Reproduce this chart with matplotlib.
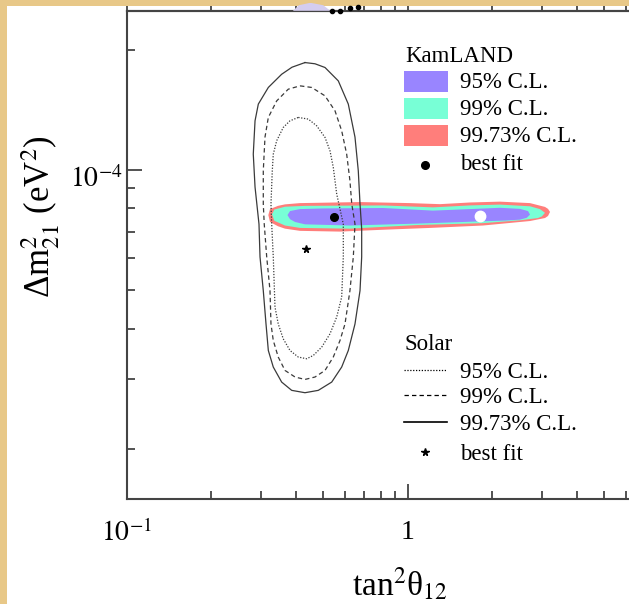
import matplotlib
matplotlib.use("Agg")
import matplotlib.pyplot as plt
from matplotlib.patches import Polygon, Rectangle
from matplotlib.lines import Line2D
from matplotlib.ticker import LogLocator, NullFormatter, FixedLocator, FixedFormatter
import matplotlib.transforms as mtrans

plt.rcParams['font.family'] = ['Liberation Serif', 'DejaVu Serif']
plt.rcParams['mathtext.fontset'] = 'stix'

# ---------------- data (tan^2 theta12, dm^2_21 [eV^2]) ----------------
solar_9973_x = [0.4306, 0.4675, 0.5074, 0.5658, 0.6141, 0.6487, 0.6665, 0.6760, 0.6853, 0.6853,
                0.6760, 0.6487, 0.6141, 0.5817, 0.5361, 0.4803, 0.4306, 0.3862, 0.3557, 0.3321,
                0.3189, 0.3129, 0.3060, 0.2979, 0.2954, 0.2860, 0.2819, 0.2860, 0.2938, 0.3189,
                0.3557, 0.3872]
solar_9973_y = [1.855e-4, 1.842e-4, 1.803e-4, 1.669e-4, 1.460e-4, 1.207e-4, 9.94e-5, 8.21e-5, 7.11e-5, 6.05e-5,
                4.98e-5, 4.11e-5, 3.527e-5, 3.206e-5, 2.940e-5, 2.803e-5, 2.765e-5, 2.803e-5, 2.940e-5, 3.206e-5,
                3.527e-5, 4.11e-5, 4.98e-5, 6.05e-5, 7.31e-5, 9.05e-5, 1.094e-4, 1.326e-4, 1.460e-4, 1.607e-4,
                1.734e-4, 1.806e-4]

solar_99_x = [0.4135, 0.4550, 0.5074, 0.5508, 0.5817, 0.6060, 0.6224, 0.6318, 0.6487, 0.6399,
              0.6224, 0.5977, 0.5737, 0.5430, 0.5074, 0.4675, 0.4306, 0.3969, 0.3656, 0.3459,
              0.3321, 0.3259, 0.3233, 0.3147, 0.3084, 0.3060, 0.3060, 0.3103, 0.3189, 0.3415,
              0.3755]
solar_99_y = [1.622e-4, 1.607e-4, 1.531e-4, 1.404e-4, 1.252e-4, 1.094e-4, 9.39e-5, 8.21e-5, 7.31e-5, 6.05e-5,
              4.98e-5, 4.11e-5, 3.736e-5, 3.396e-5, 3.144e-5, 3.027e-5, 2.985e-5, 3.027e-5, 3.144e-5, 3.396e-5,
              3.736e-5, 4.11e-5, 4.98e-5, 6.05e-5, 7.31e-5, 8.21e-5, 9.94e-5, 1.207e-4, 1.352e-4, 1.487e-4,
              1.591e-4]

solar_95_x = [0.4077, 0.4426, 0.4740, 0.5074, 0.5286, 0.5430, 0.5585, 0.5895, 0.5895, 0.5817,
              0.5585, 0.5286, 0.4939, 0.4611, 0.4368, 0.4077, 0.3809, 0.3604, 0.3459, 0.3368,
              0.3321, 0.3278, 0.3259, 0.3294, 0.3321, 0.3415, 0.3604, 0.3809]
solar_95_y = [1.352e-4, 1.339e-4, 1.288e-4, 1.205e-4, 1.115e-4, 1.014e-4, 8.69e-5, 7.31e-5, 6.05e-5, 4.80e-5,
              4.28e-5, 3.883e-5, 3.597e-5, 3.428e-5, 3.363e-5, 3.396e-5, 3.527e-5, 3.772e-5, 4.11e-5, 4.53e-5,
              6.05e-5, 7.31e-5, 8.21e-5, 9.94e-5, 1.094e-4, 1.182e-4, 1.276e-4, 1.326e-4]

solar_best_x = [0.4341]
solar_best_y = [6.33e-5]

kam_9973_x = [0.3189, 0.3233, 0.3451, 0.3656, 0.4135, 0.6760, 1.018, 1.302, 1.665, 2.129,
              2.722, 3.078, 3.155, 3.207, 3.155, 3.078, 2.722, 1.852, 1.200, 0.7964,
              0.5737, 0.4135, 0.3656, 0.3451, 0.3233]
kam_9973_y = [7.70e-5, 7.97e-5, 8.12e-5, 8.19e-5, 8.25e-5, 8.30e-5, 8.25e-5, 8.20e-5, 8.28e-5, 8.32e-5,
              8.25e-5, 8.07e-5, 7.98e-5, 7.84e-5, 7.66e-5, 7.57e-5, 7.44e-5, 7.25e-5, 7.15e-5, 7.07e-5,
              7.00e-5, 7.03e-5, 7.12e-5, 7.22e-5, 7.40e-5]

kam_99_x = [0.3286, 0.3350, 0.3656, 0.4306, 0.8160, 1.229, 1.665, 2.129, 2.722, 2.954,
            3.078, 3.000, 2.906, 2.507, 1.852, 1.078, 0.6224, 0.4135, 0.3656, 0.3350]
kam_99_y = [7.73e-5, 7.95e-5, 8.08e-5, 8.12e-5, 8.14e-5, 8.05e-5, 8.14e-5, 8.18e-5, 8.10e-5, 7.97e-5,
            7.80e-5, 7.64e-5, 7.57e-5, 7.47e-5, 7.35e-5, 7.27e-5, 7.12e-5, 7.15e-5, 7.25e-5, 7.45e-5]

kam_95_x = [0.3731, 0.3810, 0.4135, 0.5000, 0.8160, 1.229, 1.665, 2.129, 2.507, 2.678,
            2.722, 2.650, 2.507, 2.218, 1.852, 1.078, 0.6224, 0.4306, 0.3969, 0.3810]
kam_95_y = [7.70e-5, 7.88e-5, 7.97e-5, 8.00e-5, 8.02e-5, 7.90e-5, 7.97e-5, 8.03e-5, 7.98e-5, 7.88e-5,
            7.72e-5, 7.58e-5, 7.50e-5, 7.46e-5, 7.43e-5, 7.33e-5, 7.25e-5, 7.30e-5, 7.40e-5, 7.52e-5]

kam_best_x = [0.5474]
kam_best_y = [7.60e-5]
kam_alt_x = [1.806]
kam_alt_y = [7.67e-5]

# remnant of the panel above (cropped)
upper_blob_x = [0.39, 0.41, 0.45, 0.50, 0.53]
upper_blob_y = [0.0, 0.7, 1.0, 0.7, 0.0]
upper_dots_x = [0.536, 0.574, 0.622, 0.665]
upper_dots_y = [0.0, 0.0, 0.35, 0.45]

x_major = [0.1, 1, 10]
x_major_labels = [r'$10^{-1}$', '1', '']
y_major = [1e-4]
y_major_labels = [r'$10^{-4}$']

cl_labels = ['95% C.L.', '99% C.L.', '99.73% C.L.', 'best fit']

# ---------------- styling ----------------
BEIGE = '#E8C888'
C95 = '#9985FF'
C99 = '#78FFD6'
C9973 = '#FF7E7B'
LINE = '#3a3a3a'
SPINE = '#444444'
W, H = 629, 604

fig = plt.figure(figsize=(W / 100, H / 100), dpi=100, facecolor=BEIGE)
fig.patches.append(Rectangle((7 / W, 0), 1, 1 - 6 / H, transform=fig.transFigure,
                             facecolor='white', edgecolor='none', zorder=-10))

def fx(px):
    return px / W

def fy(py):
    return 1 - py / H

ax = fig.add_axes([fx(126.8), fy(498.8), 562 / W, 488 / H])
ax.set_facecolor('white')
ax.set_xscale('log')
ax.set_yscale('log')
ax.set_xlim(0.1, 10)
ax.set_ylim(1.5e-5, 2.5e-4)

# KamLAND filled regions
ax.add_patch(Polygon(list(zip(kam_9973_x, kam_9973_y)), closed=True, facecolor=C9973, edgecolor='none', zorder=1))
ax.add_patch(Polygon(list(zip(kam_99_x, kam_99_y)), closed=True, facecolor=C99, edgecolor='none', zorder=1.1))
ax.add_patch(Polygon(list(zip(kam_95_x, kam_95_y)), closed=True, facecolor=C95, edgecolor='none', zorder=1.2))

# Solar contours
def closed(a):
    return list(a) + [a[0]]

ax.plot(closed(solar_95_x), closed(solar_95_y), color=LINE, lw=0.9, dashes=(1, 1.3), zorder=2)
ax.plot(closed(solar_99_x), closed(solar_99_y), color=LINE, lw=0.9, dashes=(3.5, 2.5), zorder=2)
ax.plot(closed(solar_9973_x), closed(solar_9973_y), color=LINE, lw=0.9, zorder=2)

ax.plot(solar_best_x, solar_best_y, marker='*', color='black', ms=5.5, ls='none', zorder=3)
ax.plot(kam_best_x, kam_best_y, marker='o', color='black', ms=5.5, ls='none', zorder=3)
ax.plot(kam_alt_x, kam_alt_y, marker='o', color='white', ms=7.5, ls='none', zorder=3)

# axes / ticks
for s in ax.spines.values():
    s.set_color(SPINE)
    s.set_linewidth(1.5)

ax.xaxis.set_major_locator(FixedLocator(x_major))
ax.xaxis.set_major_formatter(FixedFormatter(x_major_labels))
ax.xaxis.set_minor_locator(LogLocator(base=10, subs=range(2, 10)))
ax.xaxis.set_minor_formatter(NullFormatter())
ax.yaxis.set_major_locator(FixedLocator(y_major))
ax.yaxis.set_major_formatter(FixedFormatter(y_major_labels))
ax.yaxis.set_minor_locator(LogLocator(base=10, subs=range(2, 10)))
ax.yaxis.set_minor_formatter(NullFormatter())

ax.tick_params(axis='both', which='major', direction='in', length=11, width=1.3, color=SPINE,
               labelsize=20, top=False, right=False)
ax.tick_params(axis='both', which='minor', direction='in', length=5.5, width=1.3, color=SPINE,
               top=False, right=False)
ax.tick_params(axis='x', which='major', pad=15)
ax.tick_params(axis='y', which='major', pad=3)
for lab in ax.get_yticklabels():
    lab.set_transform(lab.get_transform() + mtrans.ScaledTranslation(0, -7 / 100, fig.dpi_scale_trans))

# top ticks (belonging to the cropped panel above)
sec = ax.secondary_xaxis('top')
sec.xaxis.set_major_locator(FixedLocator(x_major))
sec.xaxis.set_minor_locator(LogLocator(base=10, subs=range(2, 10)))
sec.xaxis.set_major_formatter(NullFormatter())
sec.xaxis.set_minor_formatter(NullFormatter())
sec.tick_params(which='both', direction='out', length=3.6, width=1.3, color=SPINE)
sec.spines['top'].set_color(SPINE)
sec.spines['top'].set_linewidth(1.5)

# upper panel remnant
axu = fig.add_axes([fx(126.8), fy(10.8), 562 / W, 8.0 / H])
axu.set_xscale('log')
axu.set_xlim(0.1, 10)
axu.set_ylim(0, 1)
axu.axis('off')
axu.add_patch(Polygon(list(zip(upper_blob_x, upper_blob_y)), closed=True, facecolor='#d4cdef', edgecolor='none'))
axu.plot(upper_dots_x, upper_dots_y, 'o', color='black', ms=3, clip_on=False)

# axis labels
fig.text(fx(400), fy(566), 'tan$^{2}$θ$_{12}$', fontsize=24, ha='center', va='top')
fig.text(fx(41), fy(217), 'Δm$^{2}_{21}$ (eV$^{2}$)', fontsize=25,
         ha='center', va='center', rotation=90)

# KamLAND legend
LFS = 16.5
fig.text(fx(405), fy(61.7), 'KamLAND', fontsize=LFS, va='baseline', ha='left')
for (top, col) in [(70.7, C95), (98.3, C99), (125, C9973)]:
    fig.patches.append(Rectangle((fx(404), fy(top + 21)), 44 / W, 21 / H,
                                 transform=fig.transFigure, facecolor=col, edgecolor='none'))
for base, txt in zip([88.3, 115, 141.7, 170], cl_labels):
    fig.text(fx(460), fy(base), txt, fontsize=LFS, va='baseline', ha='left')
fig.lines.append(Line2D([fx(425)], [fy(165)], marker='o', color='black', ms=5.5, ls='none',
                        transform=fig.transFigure))

# Solar legend
fig.text(fx(405), fy(350), 'Solar', fontsize=LFS, va='baseline', ha='left')
fig.lines.append(Line2D([fx(404), fx(447)], [fy(370), fy(370)], color='black', lw=0.9, dashes=(1, 1.3),
                        transform=fig.transFigure))
fig.lines.append(Line2D([fx(404), fx(447)], [fy(395), fy(395)], color='black', lw=0.9, dashes=(3.5, 2.5),
                        transform=fig.transFigure))
fig.lines.append(Line2D([fx(404), fx(447)], [fy(421.7), fy(421.7)], color='black', lw=1.2,
                        transform=fig.transFigure))
fig.lines.append(Line2D([fx(425)], [fy(451.7)], marker='*', color='black', ms=5.5, ls='none',
                        transform=fig.transFigure))
for base, txt in zip([378.3, 403.3, 430, 460], cl_labels):
    fig.text(fx(460), fy(base), txt, fontsize=LFS, va='baseline', ha='left')

fig.savefig('out.png', dpi=100, facecolor=BEIGE)
